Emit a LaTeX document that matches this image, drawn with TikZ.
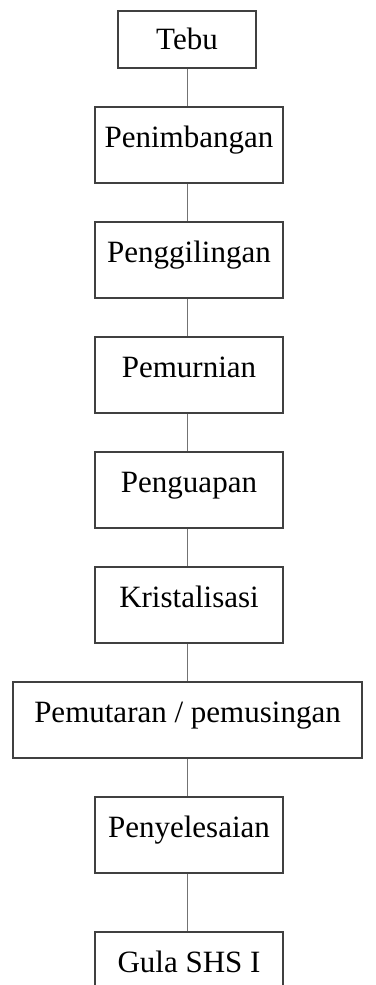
\documentclass[tikz,border=0pt]{standalone}
\usepackage{fontspec}
\setmainfont{Liberation Serif}
\begin{document}
\begin{tikzpicture}[x=1pt,y=1pt,
  stepbox/.style={draw=black!75, line width=1.3pt, fill=white, minimum width=188pt, minimum height=76pt,
    inner sep=0pt, font=\fontsize{31}{34}\selectfont, text height=20pt, text depth=15pt},
  link/.style={draw=black!55, line width=0.9pt}]
\useasboundingbox (0,0) rectangle (375,-985);
\clip (0,0) rectangle (375,-985);
\fill[white] (0,0) rectangle (375,-985);
\node[stepbox, minimum width=138pt, minimum height=57pt, text depth=0pt] (tebu) at (187,-39.5) {Tebu};
\node[stepbox] (timbang) at (189,-145) {Penimbangan};
\node[stepbox] (giling) at (189,-260) {Penggilingan};
\node[stepbox] (murni) at (189,-375) {Pemurnian};
\node[stepbox] (uap) at (189,-490) {Penguapan};
\node[stepbox] (kristal) at (189,-605) {Kristalisasi};
\node[stepbox, minimum width=349pt] (putar) at (187.5,-720) {Pemutaran / pemusingan};
\node[stepbox] (selesai) at (189,-835) {Penyelesaian};
\node[stepbox] (gula) at (189,-970) {Gula SHS I};
\draw[link] (tebu.south) -- (tebu.south |- timbang.north);
\draw[link] (tebu.south |- timbang.south) -- (tebu.south |- giling.north);
\draw[link] (tebu.south |- giling.south) -- (tebu.south |- murni.north);
\draw[link] (tebu.south |- murni.south) -- (tebu.south |- uap.north);
\draw[link] (tebu.south |- uap.south) -- (tebu.south |- kristal.north);
\draw[link] (tebu.south |- kristal.south) -- (tebu.south |- putar.north);
\draw[link] (tebu.south |- putar.south) -- (tebu.south |- selesai.north);
\draw[link] (tebu.south |- selesai.south) -- (tebu.south |- gula.north);
\end{tikzpicture}
\end{document}
